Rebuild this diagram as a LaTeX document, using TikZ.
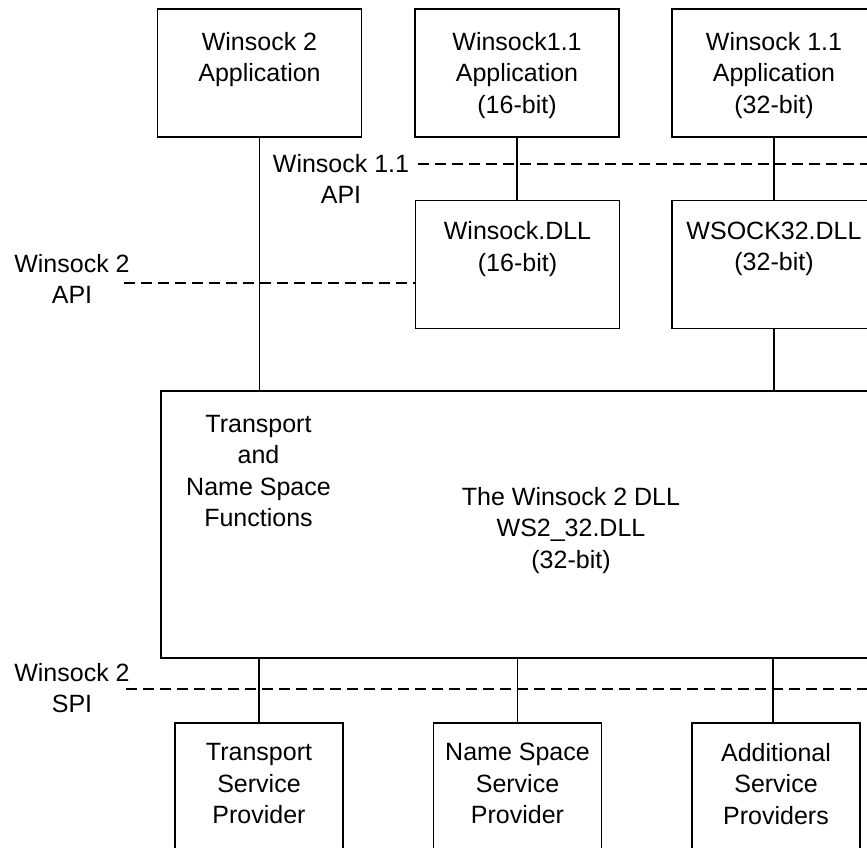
\documentclass[tikz,border=0pt]{standalone}
\usepackage{fontspec}
\setmainfont{Liberation Sans}
\usetikzlibrary{positioning}
\begin{document}
\begin{tikzpicture}[x=1pt,y=-1pt,
  box/.style={draw,line width=1.8pt,minimum width=204pt,minimum height=128pt,inner sep=0pt},
  txt/.style={align=center,inner sep=0pt,font=\fontsize{25}{31.5}\selectfont},
  link/.style={line width=1.8pt},
  iface/.style={line width=1.8pt,dash pattern=on 10.5pt off 6.5pt}]
  % bounding box
  \useasboundingbox (0,0) rectangle (867,847);
  \clip (0,0) rectangle (867,847);
  % Applications
  \node[box] (app2) at (259.5,73) {};
  \node[box] (app16) at (517,73) {};
  \node[box] (app32) at (774,73) {};
  \node[txt,below=24pt of app2.north] (app2t) {Winsock 2\\Application};
  \node[txt,below=24pt of app16.north] (app16t) {Winsock1.1\\Application\\(16-bit)};
  \node[txt,below=24pt of app32.north] (app32t) {Winsock 1.1\\Application\\(32-bit)};
  % Winsock 1.1 DLLs
  \node[box] (dll16) at (517.5,264.5) {};
  \node[box] (wsock32) at (774,264.5) {};
  \node[txt,below=22pt of dll16.north] (dll16t) {Winsock.DLL\\(16-bit)};
  \node[txt,below=22pt of wsock32.north] (wsock32t) {WSOCK32.DLL\\(32-bit)};
  % Winsock 2 DLL
  \node[box,minimum width=840pt,minimum height=267pt] (ws2) at (581,524.5) {};
  \node[txt,anchor=north] (funcs) at (258.5,415) {Transport\\and\\Name Space\\Functions};
  \node[txt,anchor=north] (ws2t) at (571,487) {The Winsock 2 DLL\\WS2\_32.DLL\\(32-bit)};
  % Service providers
  \node[box,minimum width=168pt,minimum height=134pt] (tsp) at (259,790) {};
  \node[box,minimum width=168pt,minimum height=134pt] (nsp) at (517.5,790) {};
  \node[box,minimum width=168pt,minimum height=134pt] (asp) at (776,790) {};
  \node[txt,below=21pt of tsp.north] (tspt) {Transport\\Service\\Provider};
  \node[txt,below=21pt of nsp.north] (nspt) {Name Space\\Service\\Provider};
  \node[txt,below=21pt of asp.north] (aspt) {Additional\\Service\\Providers};
  % Connections
  \draw[link] (app2.south) -- (app2.south |- ws2.north);
  \draw[link] (app16.south) -- (app16.south |- dll16.north);
  \draw[link] (app32.south) -- (wsock32.north);
  \draw[link] (wsock32.south) -- (wsock32.south |- ws2.north);
  \draw[link] (ws2.south -| tsp.north) -- (tsp.north);
  \draw[link] (ws2.south -| nsp.north) -- (nsp.north);
  \draw[link] (ws2.south -| 773,0) -- (asp.north -| 773,0);
  % Interfaces
  \node[txt,anchor=north] (api11) at (341,154) {Winsock 1.1\\API};
  \node[txt,anchor=north] (api2) at (72,254) {Winsock 2\\API};
  \node[txt,anchor=north] (spi2) at (72,663) {Winsock 2\\SPI};
  \coordinate (api11a) at (418,164);
  \coordinate (api11b) at (867,164);
  \coordinate (api2a) at (124,283);
  \coordinate (spia) at (126,689);
  \coordinate (spib) at (867,689);
  \draw[iface] (api11a) -- (api11b);
  \draw[iface] (api2a) -- (api2a -| dll16.west);
  \draw[iface] (spia) -- (spib);
\end{tikzpicture}
\end{document}
